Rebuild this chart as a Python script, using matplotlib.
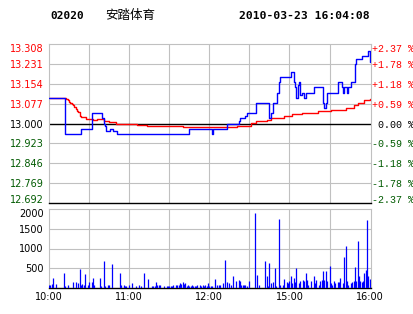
import matplotlib
matplotlib.use('Agg')
import matplotlib.pyplot as plt

# ---------------- data ----------------
prev_close = 13.000
price_ticks = [13.308, 13.231, 13.154, 13.077, 13.000, 12.923, 12.846, 12.769, 12.692]
price_labels = ['13.308', '13.231', '13.154', '13.077', '13.000', '12.923', '12.846', '12.769', '12.692']
pct_labels = ['+2.37 %', '+1.78 %', '+1.18 %', '+0.59 %', ' 0.00 %', '-0.59 %', '-1.18 %', '-1.78 %', '-2.37 %']
vol_ticks = [500, 1000, 1500, 2000]
vol_labels = ['500', '1000', '1500', '2000']
time_ticks = [0, 60, 120, 180, 240]          # minutes since 10:00 (trading minutes)
time_labels = ['10:00', '11:00', '12:00', '15:00', '16:00']
grid_minutes = [30, 60, 90, 120, 150, 180, 210]

# price (blue) – minute at which the price changes, and the new price
price_t = [0, 12, 24, 32, 40, 41, 42, 43, 46, 48,
           51, 105, 122, 123, 133, 142, 143, 147, 148, 155,
           165, 166, 168, 171, 172, 173, 181, 183, 184, 185,
           186, 187, 188, 189, 191, 192, 198, 205, 206, 207,
           208, 216, 219, 220, 221, 223, 224, 226, 229,
           230, 234, 239, 240]
price_v = [13.10, 12.96, 12.98, 13.04, 13.02, 13.00, 12.99, 12.97, 12.98, 12.97,
           12.96, 12.98, 12.96, 12.98, 13.00, 13.01, 13.02, 13.03, 13.04, 13.08,
           13.02, 13.04, 13.08, 13.12, 13.16, 13.18, 13.20, 13.16, 13.14, 13.10,
           13.15, 13.16, 13.11, 13.12, 13.10, 13.12, 13.14, 13.08, 13.06, 13.08,
           13.12, 13.16, 13.14, 13.12, 13.14, 13.12, 13.14, 13.16, 13.23,
           13.25, 13.26, 13.28, 13.24]

# average price (red)
avg_t = [0, 13, 14, 15, 16, 17, 18, 19, 20, 21,
         22, 23, 24, 28, 33, 36, 41, 45, 50, 66,
         73, 100, 141, 151, 155, 163, 166, 176, 182, 189,
         201, 211, 222, 228, 231, 236, 240]
avg_v = [13.10, 13.095, 13.09, 13.085, 13.08, 13.075, 13.07, 13.065, 13.055, 13.05,
         13.045, 13.03, 13.025, 13.018, 13.012, 13.016, 13.009, 13.004, 13.000, 12.995,
         12.992, 12.987, 12.992, 13.003, 13.01, 13.015, 13.022, 13.028, 13.035, 13.041,
         13.047, 13.054, 13.06, 13.07, 13.08, 13.09, 13.095]

# volume bars
vol_t = [0, 1, 2, 3, 5, 11, 12, 14, 18, 20, 22, 23, 24, 25, 26, 27, 29, 30, 32, 33,
         34, 38, 39, 41, 42, 44, 45, 47, 53, 54, 56, 57, 58, 60, 62, 65, 67, 69, 71, 74,
         77, 78, 79, 80, 81, 82, 83, 86, 88, 89, 90, 91, 92, 93, 95, 96, 97, 98, 99, 100,
         101, 102, 103, 104, 105, 106, 107, 108, 109, 110, 111, 113, 114, 115, 116, 117, 118, 119, 120, 121,
         122, 124, 126, 127, 128, 130, 132, 133, 135, 136, 138, 140, 142, 143, 144, 145, 146, 147, 148, 150,
         154, 156, 157, 162, 163, 164, 165, 166, 168, 169, 170, 172, 173, 175, 176, 178, 179, 180, 181, 182,
         183, 184, 185, 187, 188, 190, 191, 192, 193, 194, 196, 198, 199, 200, 202, 203, 204, 205, 206, 207,
         208, 210, 211, 212, 213, 214, 216, 217, 218, 220, 221, 222, 223, 224, 226, 227, 228, 229, 230, 231,
         232, 233, 234, 235, 236, 237, 238, 239, 240]
vol_v = [80, 85, 90, 254, 100, 380, 60, 85, 150, 150, 127, 490, 85, 100, 85, 364, 85, 144, 150, 254,
         85, 254, 60, 694, 60, 85, 85, 618, 381, 85, 85, 60, 60, 85, 127, 60, 85, 60, 390, 237,
         60, 60, 60, 160, 85, 70, 85, 60, 60, 60, 60, 60, 60, 85, 85, 85, 85, 130, 110, 140,
         90, 130, 60, 70, 60, 60, 70, 60, 60, 60, 70, 68, 60, 68, 60, 68, 60, 127, 60, 60,
         60, 237, 85, 85, 85, 127, 720, 150, 127, 85, 296, 170, 200, 170, 85, 85, 85, 85, 60, 170,
         1890, 338, 85, 694, 300, 60, 643, 127, 150, 500, 60, 1735, 85, 85, 237, 150, 127, 170, 300, 127,
         250, 150, 500, 127, 170, 200, 170, 380, 200, 85, 170, 296, 127, 190, 85, 170, 200, 440, 200, 420,
         170, 560, 127, 85, 170, 127, 150, 150, 250, 127, 780, 1060, 170, 85, 127, 150, 170, 530, 170, 1185,
         300, 170, 150, 170, 380, 450, 1710, 300, 238]

# ---------------- figure ----------------
W, H = 414, 314
fig = plt.figure(figsize=(W / 100, H / 100), dpi=100)
fig.patch.set_facecolor('white')


def rect(l, t, r, b):
    return [l / W, 1 - b / H, (r - l) / W, (b - t) / H]


GRID = '#c0c0c0'
RED = '#ff0000'
GREEN = '#005a00'
XMAX = 241

ax1 = fig.add_axes(rect(49, 44, 371, 203))
ax2 = fig.add_axes(rect(49, 209, 371, 288))

for ax in (ax1, ax2):
    ax.set_xlim(0, XMAX)
    for m in grid_minutes:
        ax.axvline(m, color=GRID, lw=0.8, zorder=0)
    for s in ('left', 'right', 'top'):
        ax.spines[s].set_color(GRID)
        ax.spines[s].set_linewidth(0.8)
    ax.spines['bottom'].set_color('black')
    ax.spines['bottom'].set_linewidth(1.0)
    ax.tick_params(length=0)

# ---- price panel ----
ax1.set_ylim(price_ticks[-1], price_ticks[0])
for y in price_ticks[1:-1]:
    if abs(y - prev_close) > 1e-9:
        ax1.axhline(y, color=GRID, lw=0.8, zorder=0)
ax1.axhline(prev_close, color='black', lw=1.0, zorder=1)

ax1.plot(price_t + [XMAX], price_v + [price_v[-1]], drawstyle='steps-post',
         color='#0000ff', lw=1.0, zorder=3)
ax1.plot(avg_t + [XMAX], avg_v + [avg_v[-1]], drawstyle='steps-post',
         color=RED, lw=1.0, zorder=2)


def colour_for(y):
    if abs(y - prev_close) < 1e-9:
        return 'black'
    return RED if y > prev_close else GREEN


ax1.set_xticks([])
ax1.set_yticks(price_ticks)
ax1.set_yticklabels(price_labels, fontsize=7, family='DejaVu Sans')
ax1.tick_params(axis='y', pad=4)
labs = ax1.get_yticklabels()
for lab, y in zip(labs, price_ticks):
    lab.set_color(colour_for(y))
labs[0].set_verticalalignment('top')
labs[-1].set_verticalalignment('baseline')

axr = ax1.twinx()
axr.set_ylim(ax1.get_ylim())
for s in axr.spines.values():
    s.set_visible(False)
axr.set_yticks(price_ticks)
axr.set_yticklabels(pct_labels, fontsize=7.2, family='Liberation Mono')
axr.tick_params(axis='y', length=0, pad=0.5)
rlabs = axr.get_yticklabels()
for lab, y in zip(rlabs, price_ticks):
    lab.set_color(colour_for(y))
rlabs[0].set_verticalalignment('top')
rlabs[-1].set_verticalalignment('baseline')

# ---- volume panel ----
ax2.set_ylim(0, 2000)
for y in vol_ticks[:-1]:
    ax2.axhline(y, color=GRID, lw=0.8, zorder=0)
ax2.vlines(vol_t, 0, vol_v, color='#0000ff', lw=0.9, zorder=3)
ax2.set_yticks(vol_ticks)
ax2.set_yticklabels(vol_labels, fontsize=7, family='DejaVu Sans')
ax2.tick_params(axis='y', pad=4)
vlabs = ax2.get_yticklabels()
vlabs[-1].set_verticalalignment('top')
ax2.set_xticks(time_ticks)
ax2.set_xticklabels(time_labels, fontsize=7, family='DejaVu Sans')
ax2.tick_params(axis='x', pad=3)

# ---- header ----
fig.text(50 / W, 1 - 16 / H, '02020', family='DejaVu Sans Mono', weight='bold',
         fontsize=8, ha='left', va='center')
fig.text(105 / W, 1 - 16 / H, '安踏体育', family=['Noto Sans CJK SC', 'DejaVu Sans'],
         fontsize=9, ha='left', va='center')
fig.text(370 / W, 1 - 16 / H, '2010-03-23 16:04:08', family='DejaVu Sans Mono',
         weight='bold', fontsize=8.2, ha='right', va='center')

fig.savefig('out.png', dpi=100)
